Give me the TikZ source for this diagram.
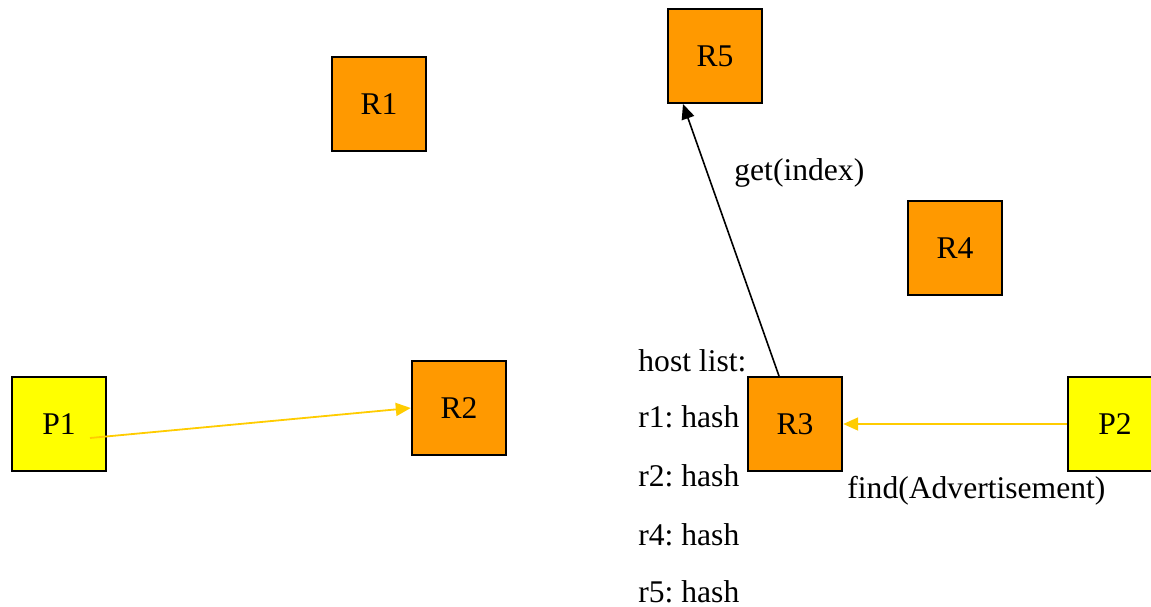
\documentclass[tikz,border=0pt]{standalone}
\usepackage{fontspec}
\setmainfont{Liberation Serif}
\usetikzlibrary{arrows.meta}
\frenchspacing

\definecolor{routerorange}{HTML}{FF9900}
\definecolor{peeryellow}{HTML}{FFFF00}
\definecolor{msgyellow}{HTML}{FFCC00}

\begin{document}
\begin{tikzpicture}[x=0.5pt, y=-0.5pt,
  txt/.style={font=\fontsize{15.8}{19}\selectfont, inner sep=0pt},
  router/.style={txt, draw, line width=1.2pt, fill=routerorange, minimum size=47pt},
  peer/.style={txt, draw, line width=1.2pt, fill=peeryellow, minimum size=47pt},
  msg/.style={msgyellow, line width=0.9pt, -{Triangle[length=7.5pt, width=6.5pt]}},
  query/.style={black, line width=0.8pt, -{Triangle[length=7.5pt, width=6.5pt]}}]

\useasboundingbox (0,0) rectangle (1151,606);

% Rendezvous peers
\node[router] (R1) at (379,104) {R1};
\node[router] (R5) at (715,56) {R5};
\node[router] (R4) at (955,248) {R4};
\node[router] (R2) at (459,408) {R2};
\node[router] (R3) at (795,424) {R3};

% Edge peers
\node[peer] (P1) at (59,424) {P1};
\node[peer] (P2) at (1115,424) {P2};

% Host list of R3
\node[txt, anchor=base west] (hl)  at (638,371) {host list:};
\node[txt, anchor=base west] (hr1) at (638,427) {r1: hash};
\node[txt, anchor=base west] (hr2) at (638,486) {r2: hash};
\node[txt, anchor=base west] (hr4) at (638,545) {r4: hash};
\node[txt, anchor=base west] (hr5) at (638,602) {r5: hash};

% Messages
\coordinate (p1out) at (90,438);
\coordinate (r3top) at (779,376);
\coordinate (r5bot) at (683,104);
\draw[msg] (p1out) -- (R2.west);
\draw[msg] (P2.west) -- (R3.east);
\draw[query] (r3top) -- (r5bot);

% Labels
\node[txt, anchor=base west] (getlbl) at (734,180) {get(index)};
\node[txt, anchor=base west] (findlbl) at (847,498) {find(Advertisement)};

\end{tikzpicture}
\end{document}
